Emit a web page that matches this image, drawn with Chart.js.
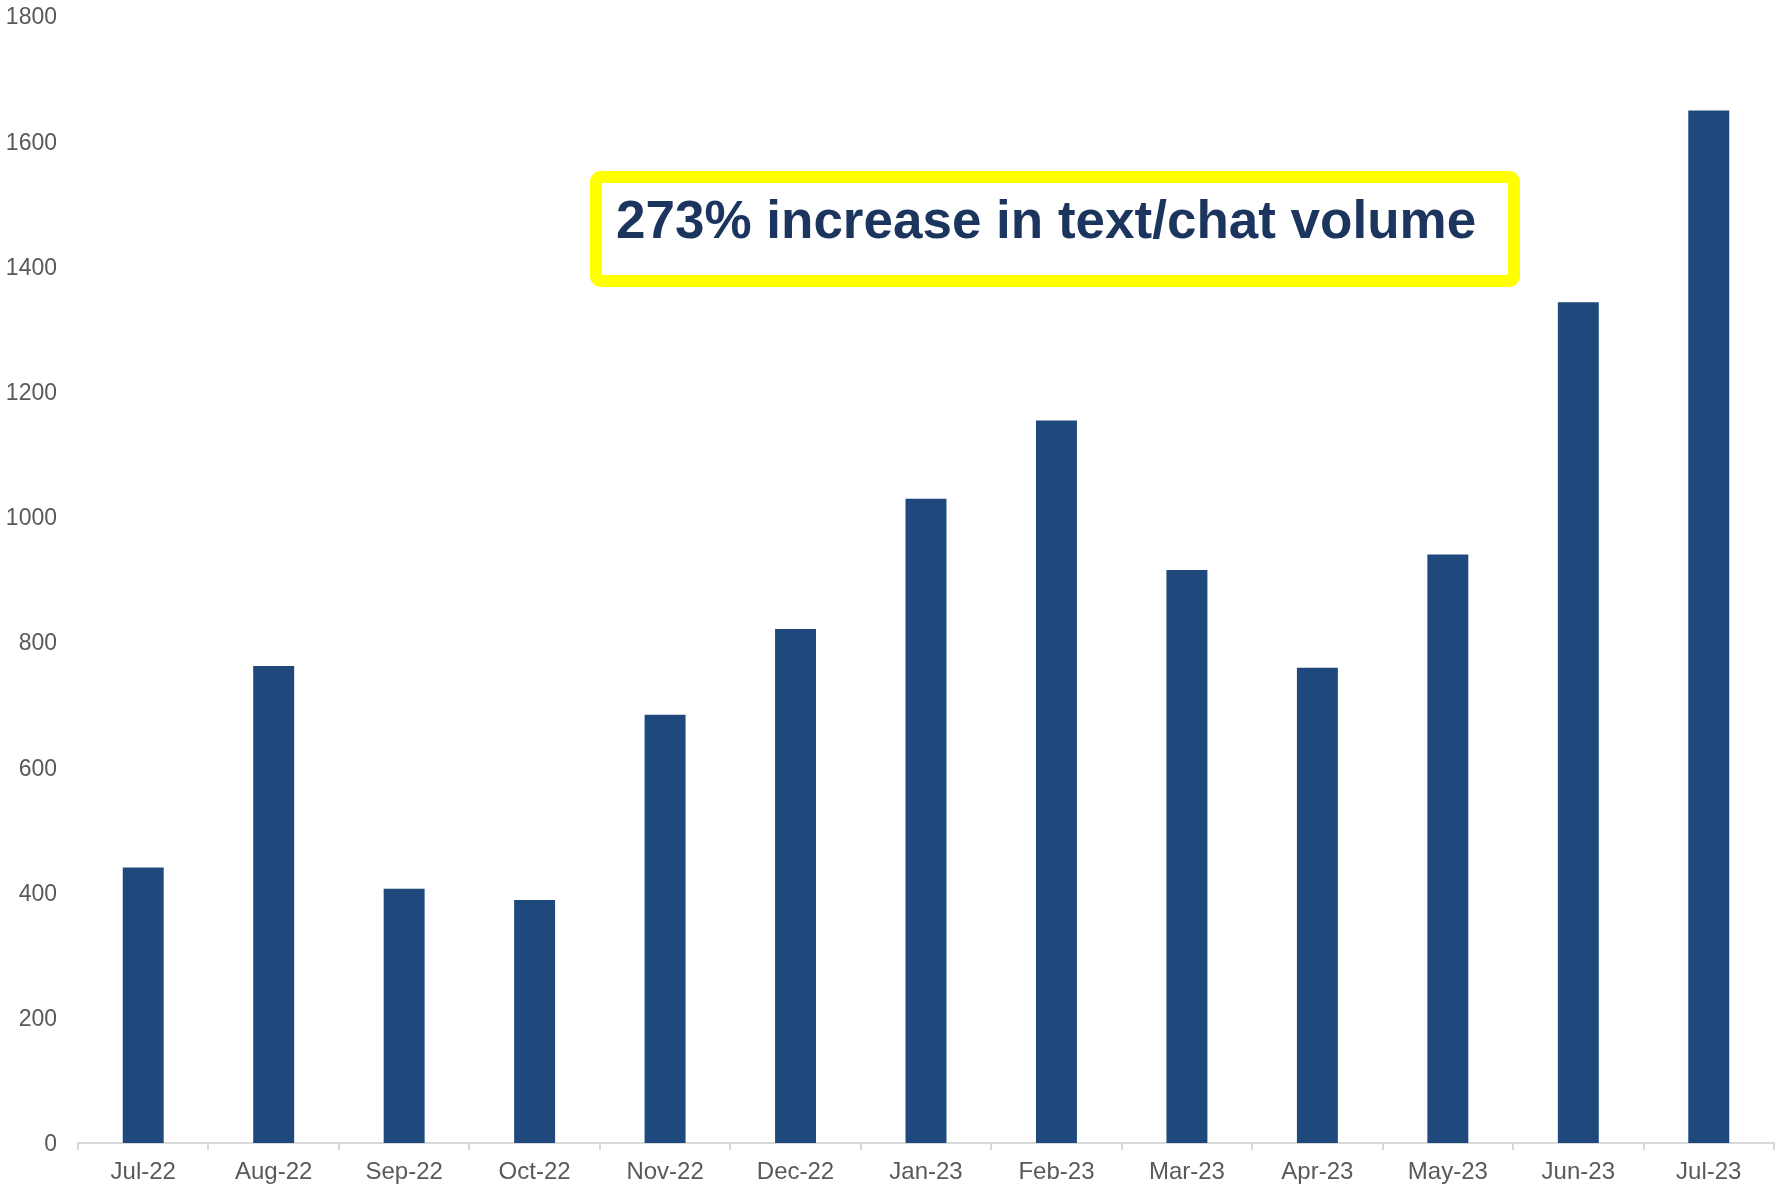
<!DOCTYPE html>
<html>
<head>
<meta charset="utf-8">
<title>Text/chat volume by month</title>
<script src="https://cdn.jsdelivr.net/npm/chart.js@4/dist/chart.umd.min.js"></script>
<style>
  html, body { margin: 0; padding: 0; background: #ffffff; }
  #wrap { width: 1781px; height: 1187px; position: relative; }
</style>
</head>
<body>
<div id="wrap"><canvas id="chart" width="1781" height="1187"></canvas></div>
<script>
// Monthly text/chat volume
const months = ['Jul-22', 'Aug-22', 'Sep-22', 'Oct-22', 'Nov-22', 'Dec-22',
                'Jan-23', 'Feb-23', 'Mar-23', 'Apr-23', 'May-23', 'Jun-23', 'Jul-23'];
const chatVolume = [440, 762, 406, 388, 684, 821, 1029, 1154, 915, 759, 940, 1343, 1649];
const yTicks = [0, 200, 400, 600, 800, 1000, 1200, 1400, 1600, 1800];
const calloutText = '273% increase in text/chat volume';

// Draws the yellow-bordered callout box with its headline
const calloutPlugin = {
  id: 'callout',
  afterDraw(chart, args, opts) {
    const ctx = chart.ctx;
    const x = opts.left, y = opts.top, w = opts.width, h = opts.height;
    const bw = opts.borderWidth, r = opts.radius;
    ctx.save();
    ctx.fillStyle = '#ffffff';
    ctx.strokeStyle = opts.borderColor;
    ctx.lineWidth = bw;
    ctx.beginPath();
    ctx.roundRect(x + bw / 2, y + bw / 2, w - bw, h - bw, r);
    ctx.fill();
    ctx.stroke();
    ctx.fillStyle = opts.color;
    ctx.font = opts.font;
    ctx.textAlign = 'left';
    ctx.textBaseline = 'alphabetic';
    ctx.fillText(opts.text, opts.textX, opts.textY);
    ctx.restore();
  }
};

new Chart(document.getElementById('chart'), {
  type: 'bar',
  data: {
    labels: months,
    datasets: [{
      data: chatVolume,
      backgroundColor: '#1F497D',
      borderWidth: 0,
      categoryPercentage: 1.0,
      barPercentage: 0.314
    }]
  },
  plugins: [calloutPlugin],
  options: {
    responsive: false,
    animation: false,
    layout: { padding: { top: 16, right: 7, bottom: 0, left: 0 } },
    plugins: {
      legend: { display: false },
      tooltip: { enabled: false },
      callout: {
        left: 590, top: 171, width: 930, height: 116,
        borderWidth: 12, radius: 5, borderColor: '#FFFF00',
        text: calloutText,
        textX: 616, textY: 238,
        color: '#1C355E',
        font: 'bold 53px "Liberation Sans", Arial, sans-serif'
      }
    },
    scales: {
      x: {
        grid: {
          display: true,
          offset: true,
          drawOnChartArea: false,
          drawTicks: true,
          tickLength: 7,
          color: '#D9D9D9',
          lineWidth: 2
        },
        border: { display: true, color: '#D9D9D9', width: 2 },
        ticks: {
          color: '#595959',
          padding: 8,
          maxRotation: 0,
          autoSkip: false,
          font: { family: '"Liberation Sans", Arial, sans-serif', size: 24 }
        },
        afterFit(scale) { scale.height = 44; }
      },
      y: {
        min: 0,
        max: 1800,
        afterBuildTicks(scale) { scale.ticks = yTicks.map(v => ({ value: v })); },
        grid: { display: false, drawTicks: false },
        border: { display: false },
        ticks: {
          color: '#595959',
          padding: 21,
          labelOffset: 2,
          callback: (value) => String(value),
          font: { family: '"Liberation Sans", Arial, sans-serif', size: 23 }
        },
        afterFit(scale) {
          scale.width = 78;
          scale.paddingTop = 0;
          scale.paddingBottom = 0;
        }
      }
    }
  }
});
</script>
</body>
</html>
